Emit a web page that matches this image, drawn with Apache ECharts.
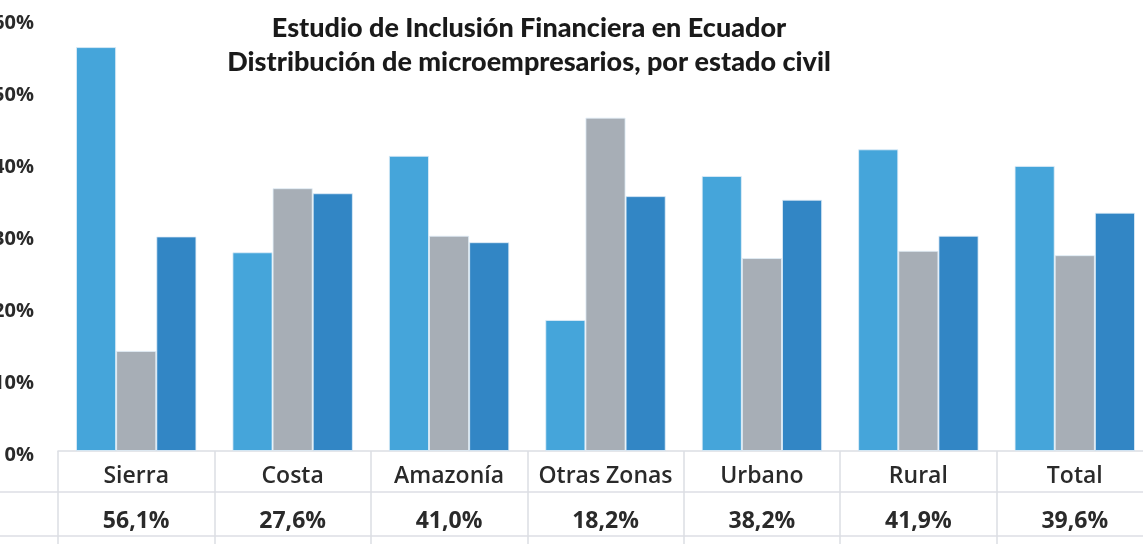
<!DOCTYPE html>
<html>
<head>
<meta charset="utf-8">
<script src="https://cdn.jsdelivr.net/npm/echarts@6/dist/echarts.min.js"></script>
<style>
html,body{margin:0;padding:0;background:#fff;}
#chart{width:1143px;height:544px;}
</style>
</head>
<body>
<div id="chart"></div>
<script>
var categories = ['Sierra', 'Costa', 'Amazonía', 'Otras Zonas', 'Urbano', 'Rural', 'Total'];
var serie1 = [56.1, 27.6, 41.0, 18.2, 38.2, 41.9, 39.6];
var serie2 = [13.9, 36.5, 29.9, 46.3, 26.8, 27.8, 27.2];
var serie3 = [29.8, 35.8, 29.0, 35.4, 34.9, 29.9, 33.1];
var yTicks = [0, 10, 20, 30, 40, 50, 60];
var titleLines = ['Estudio de Inclusión Financiera en Ecuador', 'Distribución de microempresarios, por estado civil'];

var rowLabels = serie1.map(function (v) { return v.toFixed(1).replace('.', ',') + '%'; });
var lineColor = '#dcdee4';
var textColor = '#2a2a2a';

var chart = echarts.init(document.getElementById('chart'), null, {renderer: 'canvas'});
var barBorder = {borderColor: 'rgba(225,238,248,0.8)', borderWidth: 1};
chart.setOption({
  animation: false,
  backgroundColor: '#ffffff',
  title: {
    text: titleLines.join('\n'),
    left: 524,
    top: 6,
    textAlign: 'center',
    textStyle: {fontFamily: 'Lato', fontWeight: 900, fontSize: 27, lineHeight: 34, color: '#1a1a1a'}
  },
  grid: {left: 58, width: 1095, top: 19, bottom: 93, containLabel: false, outerBoundsMode: 'none'},
  xAxis: [{
    type: 'category',
    data: categories,
    position: 'bottom',
    axisLine: {show: true, lineStyle: {color: lineColor, width: 1.5}},
    axisTick: {show: true, length: 41, interval: 0, lineStyle: {color: lineColor, width: 1.5}},
    axisLabel: {interval: 0, margin: 14, color: textColor, fontFamily: 'Open Sans', fontSize: 23, fontWeight: 600}
  }, {
    type: 'category',
    data: rowLabels,
    position: 'bottom',
    offset: 41,
    axisLine: {show: false},
    axisTick: {show: true, length: 60, interval: 0, lineStyle: {color: lineColor, width: 1.5}},
    axisLabel: {interval: 0, margin: 18, color: textColor, fontFamily: 'Open Sans', fontSize: 23, fontWeight: 'bold'}
  }],
  yAxis: {
    type: 'value',
    min: 0, max: 60, interval: 10,
    axisLine: {show: false},
    axisTick: {show: false},
    splitLine: {show: false},
    axisLabel: {margin: 24, color: textColor, fontFamily: 'Open Sans', fontSize: 20, fontWeight: 'bold',
      formatter: function (v) { return yTicks.indexOf(v) >= 0 ? '{a|' + v + '%}' : ''; },
      rich: {a: {fontFamily: 'Open Sans', fontSize: 20, fontWeight: 'bold', color: textColor, padding: [8, 0, 0, 0]}}}
  },
  graphic: [
    {type: 'line', shape: {x1: 0, y1: 492, x2: 1143, y2: 492}, style: {stroke: lineColor, lineWidth: 1.5}, silent: true},
    {type: 'line', shape: {x1: 0, y1: 536, x2: 1143, y2: 536}, style: {stroke: lineColor, lineWidth: 1.5}, silent: true}
  ],
  series: [
    {name: 'Serie 1', type: 'bar', data: serie1, barGap: '0%', barCategoryGap: '23%', itemStyle: Object.assign({color: '#45a5da'}, barBorder)},
    {name: 'Serie 2', type: 'bar', data: serie2, barGap: '0%', barCategoryGap: '23%', itemStyle: Object.assign({color: '#a7aeb6'}, barBorder)},
    {name: 'Serie 3', type: 'bar', data: serie3, barGap: '0%', barCategoryGap: '23%', itemStyle: Object.assign({color: '#3286c5'}, barBorder)}
  ]
});
</script>
</body>
</html>
